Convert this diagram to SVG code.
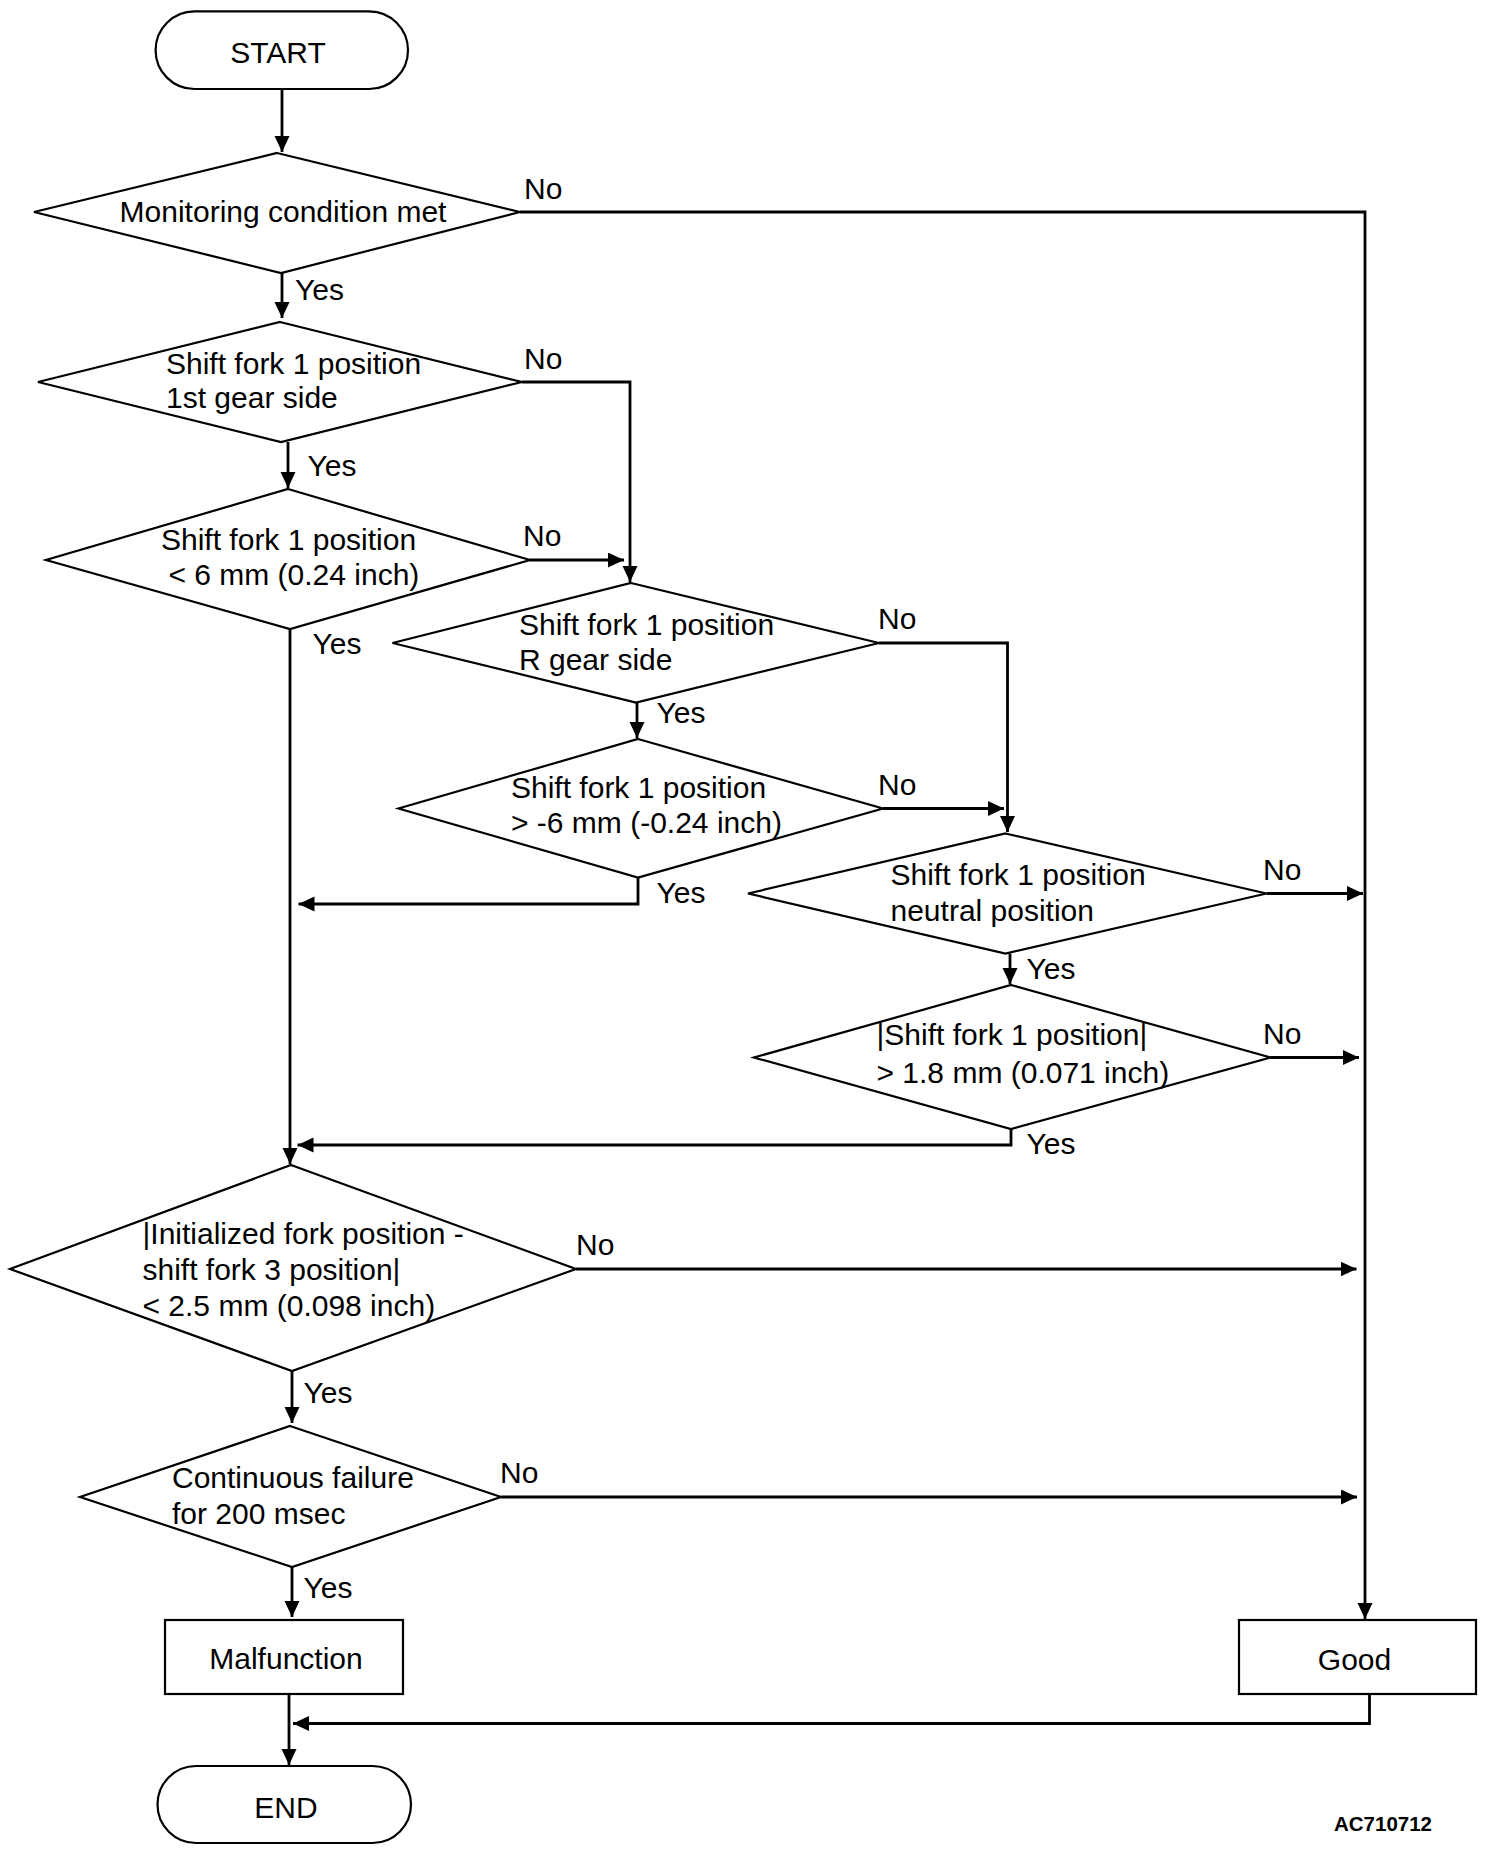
<svg xmlns="http://www.w3.org/2000/svg" width="1488" height="1854" viewBox="0 0 1488 1854">
<style>
.shape{fill:#fff;stroke:#000;stroke-width:2.2}
.conn{fill:none;stroke:#000;stroke-width:2.8}
text{font-family:"Liberation Sans",Arial,sans-serif;font-size:30px;fill:#000}
.c{text-anchor:middle}
.id{font-weight:bold;font-size:20.5px}
</style>
<defs>
<marker id="ah" markerUnits="userSpaceOnUse" markerWidth="17" markerHeight="16" refX="16" refY="7.5" orient="auto">
<path d="M0,0 L16,7.5 L0,15 z" fill="#000"/>
</marker>
</defs>
<rect width="1488" height="1854" fill="#fff"/>
<g id="connectors">
<line class="conn" x1="282" y1="89" x2="282" y2="152" marker-end="url(#ah)"/>
<polyline class="conn" points="520,212 1365,212 1365,1619" marker-end="url(#ah)"/>
<line class="conn" x1="282" y1="273" x2="282" y2="318" marker-end="url(#ah)"/>
<polyline class="conn" points="522,382 630,382 630,582" marker-end="url(#ah)"/>
<line class="conn" x1="288" y1="442" x2="288" y2="488" marker-end="url(#ah)"/>
<line class="conn" x1="530" y1="560" x2="624" y2="560" marker-end="url(#ah)"/>
<line class="conn" x1="290" y1="629" x2="290" y2="1164" marker-end="url(#ah)"/>
<polyline class="conn" points="879,643 1007.5,643 1007.5,832" marker-end="url(#ah)"/>
<line class="conn" x1="637" y1="702.5" x2="637" y2="738" marker-end="url(#ah)"/>
<line class="conn" x1="883" y1="808.5" x2="1004" y2="808.5" marker-end="url(#ah)"/>
<polyline class="conn" points="638,877.5 638,904 298.5,904" marker-end="url(#ah)"/>
<line class="conn" x1="1266.5" y1="893.5" x2="1363" y2="893.5" marker-end="url(#ah)"/>
<line class="conn" x1="1010" y1="953.5" x2="1010" y2="984" marker-end="url(#ah)"/>
<line class="conn" x1="1270.5" y1="1057.5" x2="1359" y2="1057.5" marker-end="url(#ah)"/>
<polyline class="conn" points="1011,1129 1011,1145 297.5,1145" marker-end="url(#ah)"/>
<line class="conn" x1="576" y1="1269" x2="1356.5" y2="1269" marker-end="url(#ah)"/>
<line class="conn" x1="292" y1="1371" x2="292" y2="1423" marker-end="url(#ah)"/>
<line class="conn" x1="501" y1="1497" x2="1357" y2="1497" marker-end="url(#ah)"/>
<line class="conn" x1="292" y1="1567" x2="292" y2="1617" marker-end="url(#ah)"/>
<polyline class="conn" points="1369.5,1694 1369.5,1723.5 293,1723.5" marker-end="url(#ah)"/>
<line class="conn" x1="289" y1="1694" x2="289" y2="1765" marker-end="url(#ah)"/>
</g>
<g id="labels">
<text x="524" y="199">No</text>
<text x="295" y="300">Yes</text>
<text x="524" y="369">No</text>
<text x="307.5" y="475.5">Yes</text>
<text x="523" y="546">No</text>
<text x="312.5" y="654">Yes</text>
<text x="878" y="628.5">No</text>
<text x="656.5" y="723">Yes</text>
<text x="878" y="795">No</text>
<text x="656.5" y="902.5">Yes</text>
<text x="1263" y="880">No</text>
<text x="1026.5" y="979">Yes</text>
<text x="1263" y="1044">No</text>
<text x="1026.5" y="1154">Yes</text>
<text x="576" y="1255">No</text>
<text x="303.5" y="1403">Yes</text>
<text x="500" y="1483">No</text>
<text x="303.5" y="1598">Yes</text>
</g>
<g id="start">
<rect class="shape" x="155.6" y="11.4" width="252.4" height="77.6" rx="38.8"/>
<text class="c" x="278" y="63.3">START</text>
</g>
<g id="d1">
<polygon class="shape" points="277,153 520,212 281,273 34,212"/>
<text x="119.6" y="222.4">Monitoring condition met</text>
</g>
<g id="d2">
<polygon class="shape" points="280,322 522,382 281,442 38,382"/>
<text x="166" y="373.5">Shift fork 1 position</text>
<text x="166" y="408">1st gear side</text>
</g>
<g id="d3">
<polygon class="shape" points="288,489 530,560 290,629 46,560"/>
<text x="161" y="550">Shift fork 1 position</text>
<text x="168.4" y="585">&lt; 6 mm (0.24 inch)</text>
</g>
<g id="d4">
<polygon class="shape" points="631,583 879,643 636,702.5 392.5,643"/>
<text x="519" y="635">Shift fork 1 position</text>
<text x="519" y="670">R gear side</text>
</g>
<g id="d5">
<polygon class="shape" points="638,739 883,808.5 638,877.5 398.5,808.5"/>
<text x="511" y="797.5">Shift fork 1 position</text>
<text x="511" y="832.5">&gt; -6 mm (-0.24 inch)</text>
</g>
<g id="d6">
<polygon class="shape" points="1005.5,833.5 1266.5,893.5 1005.5,953.5 748,893.5"/>
<text x="890.5" y="885">Shift fork 1 position</text>
<text x="890.5" y="921">neutral position</text>
</g>
<g id="d7">
<polygon class="shape" points="1011,985 1270.5,1057.5 1011,1129 754,1057.5"/>
<text x="876.5" y="1045">|Shift fork 1 position|</text>
<text x="876.5" y="1082.5">&gt; 1.8 mm (0.071 inch)</text>
</g>
<g id="d8">
<polygon class="shape" points="291,1165 576,1269 292,1371 10,1269"/>
<text x="142.5" y="1244">|Initialized fork position -</text>
<text x="142.5" y="1280">shift fork 3 position|</text>
<text x="142.5" y="1316">&lt; 2.5 mm (0.098 inch)</text>
</g>
<g id="d9">
<polygon class="shape" points="290,1426 501,1497 292,1567 80,1497"/>
<text x="172" y="1488">Continuous failure</text>
<text x="172" y="1524.4">for 200 msec</text>
</g>
<g id="malfunction">
<rect class="shape" x="165" y="1620" width="238" height="74"/>
<text class="c" x="286" y="1668.5">Malfunction</text>
</g>
<g id="good">
<rect class="shape" x="1239" y="1620" width="237" height="74"/>
<text class="c" x="1354.5" y="1669.5">Good</text>
</g>
<g id="end">
<rect class="shape" x="157.5" y="1766" width="253.5" height="77" rx="38.5"/>
<text class="c" x="286" y="1817.5">END</text>
</g>
<text class="id" x="1334" y="1831">AC710712</text>
</svg>
